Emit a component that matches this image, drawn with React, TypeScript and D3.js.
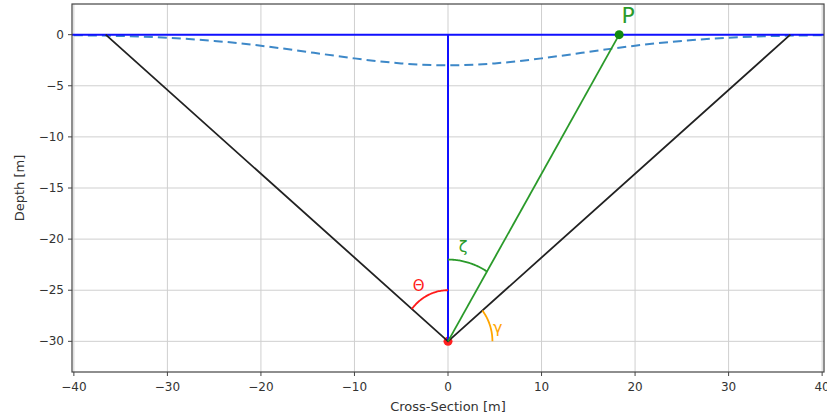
import React from 'react';
import * as d3 from 'd3';

const xTicks = [-40, -30, -20, -10, 0, 10, 20, 30, 40];
const yTicks = [0, -5, -10, -15, -20, -25, -30];

// settlement trough
const troughX = [-40, -35, -30, -25, -20, -15, -10, -5, 0, 5, 10, 15, 20, 25, 30, 35, 40];
const troughDepth = [-0.05, -0.13, -0.3, -0.61, -1.08, -1.69, -2.32, -2.81, -3.0, -2.81, -2.32, -1.69, -1.08, -0.61, -0.3, -0.13, -0.05];

const coneX = [-36.6, 0, 36.6];
const coneY = [0, -30, 0];
const rayX = [0, 18.3];
const rayY = [-30, 0];
const axisX = [0, 0];
const axisY = [-30, 0];
const surfaceX = [-41, 41];

const W = 827;
const H = 418;
const margin = { top: 4, right: 3, bottom: 46, left: 72 };

export default function App() {
  const x = d3.scaleLinear().domain([-40.2, 40.2]).range([margin.left, W - margin.right]);
  const y = d3.scaleLinear().domain([-33, 3]).range([H - margin.bottom, margin.top]);

  const pts = (xs: number[], ys: number[]) => xs.map((v, i) => [v, ys[i]] as [number, number]);
  const ln = d3.line<[number, number]>().x(d => x(d[0])).y(d => y(d[1]));
  const smooth = d3.line<[number, number]>().x(d => x(d[0])).y(d => y(d[1])).curve(d3.curveNatural);

  const apex: [number, number] = [coneX[1], coneY[1]];
  const angleTo = (px: number, py: number) => Math.atan2(py - apex[1], px - apex[0]);
  const arc = (r: number, a0: number, a1: number) =>
    ln(d3.range(0, 41).map(i => {
      const a = a0 + (a1 - a0) * i / 40;
      return [apex[0] + r * Math.cos(a), apex[1] + r * Math.sin(a)] as [number, number];
    }));

  const leftAng = angleTo(coneX[0], coneY[0]);
  const rightAng = angleTo(coneX[2], coneY[2]);
  const rayAng = angleTo(rayX[1], rayY[1]);

  const x0 = margin.left, x1 = W - margin.right;
  const y0 = margin.top, y1 = H - margin.bottom;
  const font = 'DejaVu Sans, sans-serif';

  return (
    <svg width={W} height={H} style={{ position: 'absolute', left: 0, top: 0, background: '#fff' }}>
      <defs>
        <clipPath id="plot">
          <rect x={x0} y={y0} width={x1 - x0} height={y1 - y0} />
        </clipPath>
      </defs>
      {/* grid */}
      <g stroke="#cfcfcf" strokeWidth={1}>
        {xTicks.map(t => <line key={'gx' + t} x1={x(t)} x2={x(t)} y1={y0} y2={y1} />)}
        {yTicks.map(t => <line key={'gy' + t} x1={x0} x2={x1} y1={y(t)} y2={y(t)} />)}
      </g>
      <g clipPath="url(#plot)">
        <circle cx={x(apex[0])} cy={y(apex[1])} r={4.5} fill="#ff2020" />
        <path d={smooth(pts(troughX, troughDepth)) || ''} fill="none" stroke="#3d88c8" strokeWidth={2} strokeDasharray="9,5" />
        <path d={ln(pts(surfaceX, [0, 0])) || ''} fill="none" stroke="#1010ff" strokeWidth={2} />
        <path d={ln(pts(axisX, axisY)) || ''} fill="none" stroke="#1010ff" strokeWidth={2} />
        <path d={ln(pts(coneX, coneY)) || ''} fill="none" stroke="#222" strokeWidth={1.8} />
        <path d={ln(pts(rayX, rayY)) || ''} fill="none" stroke="#2a9a2a" strokeWidth={1.8} />
        <path d={arc(5, Math.PI / 2, leftAng) || ''} fill="none" stroke="#ff1a1a" strokeWidth={1.8} />
        <path d={arc(8, Math.PI / 2, rayAng) || ''} fill="none" stroke="#2a9a2a" strokeWidth={1.8} />
        <path d={arc(4.75, 0, rightAng) || ''} fill="none" stroke="#ffa500" strokeWidth={1.8} />
        <circle cx={x(rayX[1])} cy={y(rayY[1])} r={4.5} fill="#108a10" />
      </g>
      <text x={x(-3.15)} y={y(-25.1)} fill="#ff1a1a" fontSize={15} fontFamily={font} textAnchor="middle">Θ</text>
      <text x={x(1.15)} y={y(-21.3)} fill="#2a9a2a" fontSize={16} fontFamily={font}>ζ</text>
      <text x={x(4.8)} y={y(-29.15)} fill="#ffa500" fontSize={16} fontFamily={font}>γ</text>
      <text x={x(18.55)} y={y(1.1)} fill="#2a9a2a" fontSize={22} fontFamily={font}>P</text>
      {/* frame */}
      <rect x={x0} y={y0} width={x1 - x0} height={y1 - y0} fill="none" stroke="#444" strokeWidth={1.2} />
      {/* x axis */}
      <g fontFamily={font} fontSize={12} fill="#333">
        {xTicks.map(t => (
          <g key={'xt' + t}>
            <line x1={x(t)} x2={x(t)} y1={y1} y2={y1 + 4} stroke="#444" />
            <text x={x(t)} y={y1 + 19} textAnchor="middle">{t < 0 ? '\u2212' + Math.abs(t) : t}</text>
          </g>
        ))}
        {yTicks.map(t => (
          <g key={'yt' + t}>
            <line x1={x0 - 4} x2={x0} y1={y(t)} y2={y(t)} stroke="#444" />
            <text x={x0 - 8} y={y(t)} textAnchor="end" dominantBaseline="central">{t < 0 ? '\u2212' + Math.abs(t) : t}</text>
          </g>
        ))}
      </g>
      <text x={(x0 + x1) / 2} y={411} fontFamily={font} fontSize={13} fill="#333" textAnchor="middle">Cross-Section [m]</text>
      <text transform={`translate(24,${(y0 + y1) / 2}) rotate(-90)`} fontFamily={font} fontSize={13} fill="#333" textAnchor="middle">Depth [m]</text>
    </svg>
  );
}
